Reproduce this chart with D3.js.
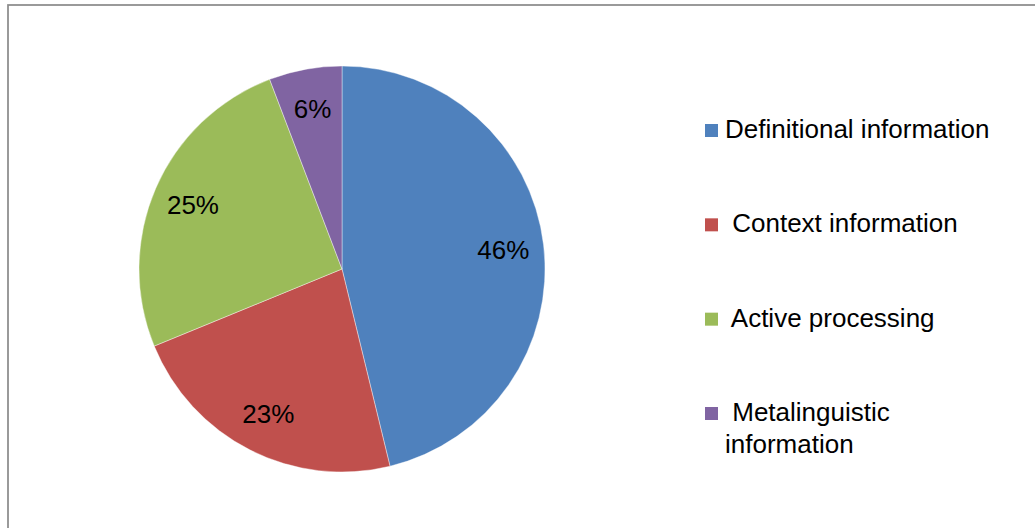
<!DOCTYPE html>
<html>
<head>
<meta charset="utf-8">
<script src="https://cdn.jsdelivr.net/npm/d3@7"></script>
<style>
  html, body { margin: 0; padding: 0; background: #fff; }
  svg { display: block; }
  text { font-family: "Liberation Sans", Arial, sans-serif; fill: #000; white-space: pre; }
</style>
</head>
<body>
<svg id="chart" width="1035" height="528"></svg>
<script>
const categories = ["Definitional information", " Context information", " Active processing", " Metalinguistic\ninformation"];
const values = [46.2, 22.6, 25.4, 5.8];
const valueLabels = ["46%", "23%", "25%", "6%"];
const colors = ["#4F81BD", "#C0504D", "#9BBB59", "#8064A2"];

const svg = d3.select("#chart");
const W = 1035, H = 528;

// outer frame (extends beyond right/bottom edge)
svg.append("rect")
  .attr("x", 8).attr("y", 5)
  .attr("width", W + 10).attr("height", H + 10)
  .attr("fill", "#fff")
  .attr("stroke", "#8c8c8c").attr("stroke-width", 1.75);

const cx = 342, cy = 269, R = 203;
const pie = d3.pie().sort(null).value(d => d)(values);
const arc = d3.arc().innerRadius(0).outerRadius(R);
const labelArc = d3.arc().innerRadius(R * 0.8).outerRadius(R * 0.8);

const g = svg.append("g").attr("transform", `translate(${cx},${cy})`);
g.selectAll("path.slice").data(pie).enter().append("path")
  .attr("class", "slice")
  .attr("d", arc)
  .attr("fill", (d, i) => colors[i])
  .attr("stroke", "#fff").attr("stroke-width", 0.4);

g.selectAll("text.lbl").data(pie).enter().append("text")
  .attr("class", "lbl")
  .attr("transform", d => `translate(${labelArc.centroid(d)})`)
  .attr("text-anchor", "middle")
  .attr("dy", "0.35em")
  .style("font-size", "26px")
  .text((d, i) => valueLabels[i]);

// legend
const legendY = d3.scalePoint().domain(d3.range(categories.length)).range([138, 421]);
const lg = svg.append("g");
categories.forEach((c, i) => {
  const y = legendY(i);
  lg.append("rect")
    .attr("x", 705).attr("y", y - 14)
    .attr("width", 13).attr("height", 13)
    .attr("fill", colors[i]);
  const lines = c.split("\n");
  const t = lg.append("text").style("font-size", "26px");
  lines.forEach((ln, j) => {
    t.append("tspan")
      .attr("x", 725)
      .attr("y", y + j * 31.5)
      .text(ln);
  });
});
</script>
</body>
</html>
